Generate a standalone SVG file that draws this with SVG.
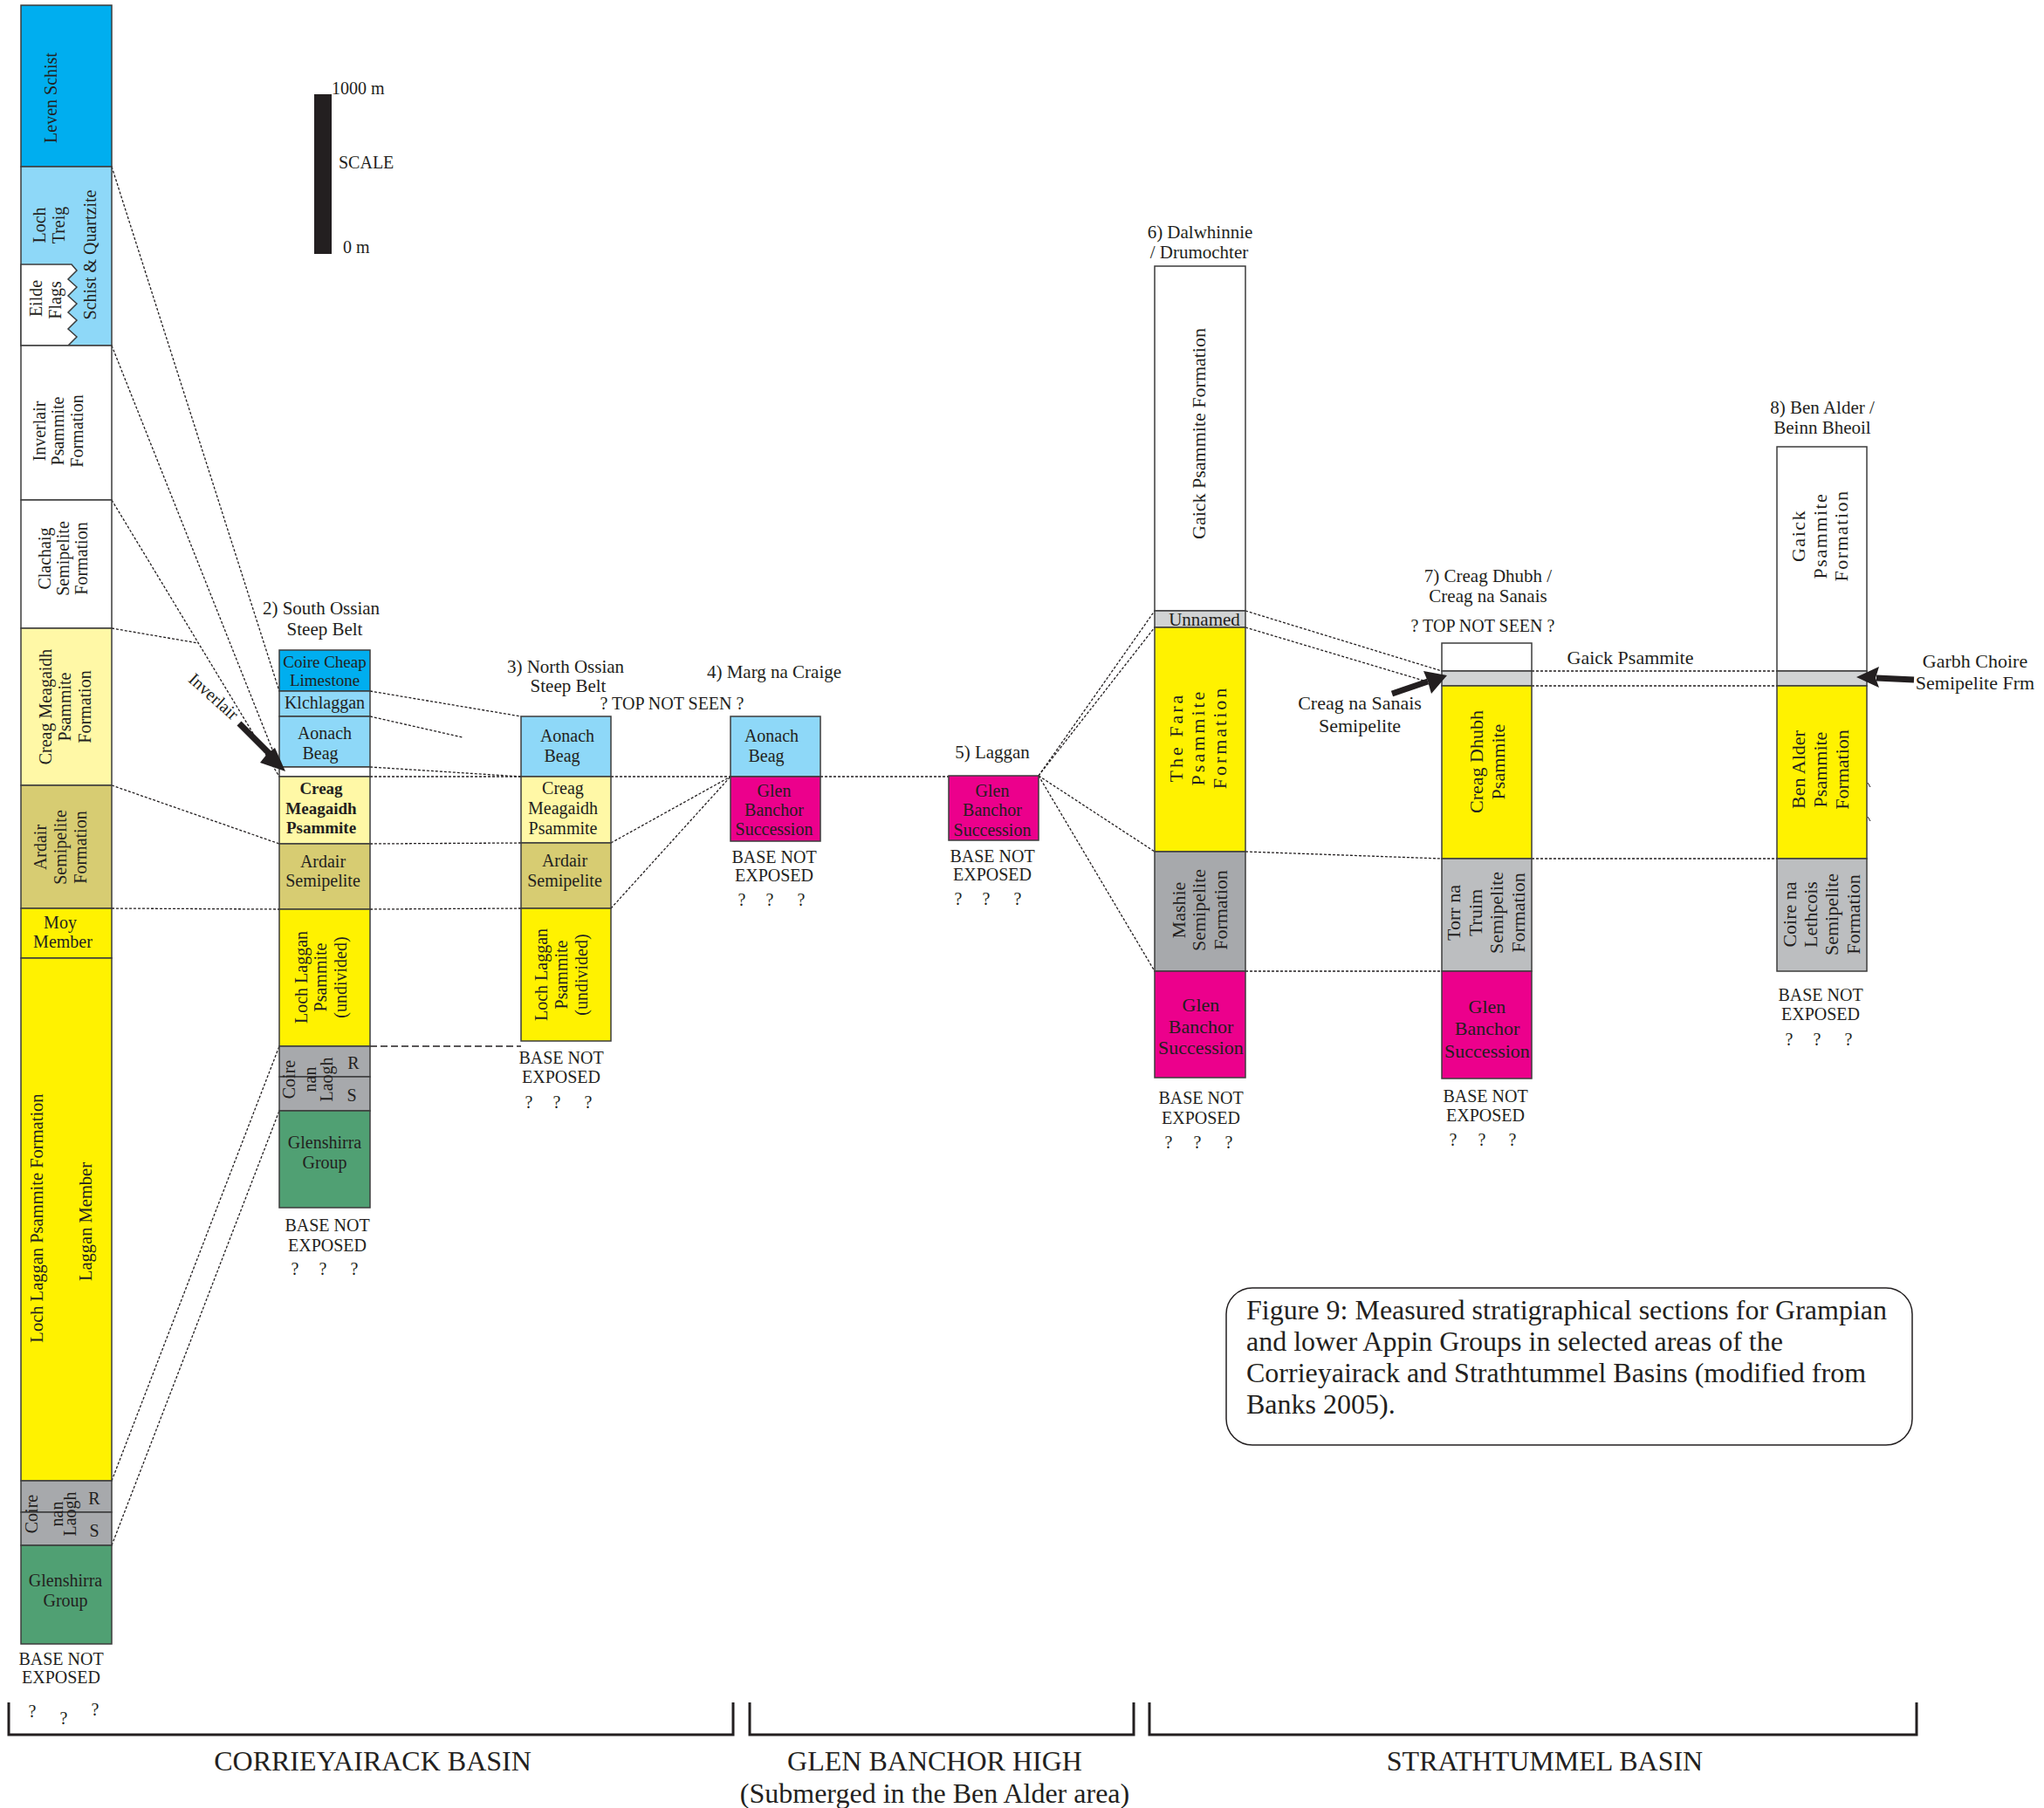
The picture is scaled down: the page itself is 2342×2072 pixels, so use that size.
<svg xmlns="http://www.w3.org/2000/svg" width="2342" height="2072" viewBox="0 0 2342 2072">
<defs>
<style>
.t{font-family:"Liberation Serif","Times New Roman",serif;font-size:20px;fill:#231f20;text-anchor:middle;dominant-baseline:central}
.s19{font-size:19px}
.s21{font-size:21px}
.s22{font-size:22px}
.s32{font-size:32px}
.cap{font-size:32px;text-anchor:start}
.st{text-anchor:start}
.b{font-weight:bold}
.ls1{letter-spacing:1.5px}
.ls3{letter-spacing:3px}
.u{stroke:#3d3d3d;stroke-width:1.5}
.blue{fill:#00aeef}
.lb{fill:#8ed8f8}
.wh{fill:#ffffff}
.py{fill:#fff8a6}
.kh{fill:#d7cc72}
.ye{fill:#fff200}
.gr{fill:#a7a9ac}
.lg{fill:#d1d3d4}
.mg{fill:#bcbec0}
.gn{fill:#50a073}
.ma{fill:#ec008c}
.dl{stroke:#231f20;stroke-width:1.3;stroke-dasharray:3 2;fill:none}
.dl2{stroke:#231f20;stroke-width:1.3;stroke-dasharray:8 4;fill:none}
.br{stroke:#231f20;stroke-width:3;fill:none}
</style>
</defs>
<rect width="2342" height="2072" fill="#ffffff"/>

<g id="connectors">
<line class="dl" x1="128" y1="191" x2="320" y2="792"/>
<line class="dl" x1="128" y1="396" x2="320" y2="879"/>
<line class="dl" x1="128" y1="573" x2="320" y2="890"/>
<line class="dl" x1="128" y1="720" x2="227" y2="737"/>
<line class="dl" x1="128" y1="900" x2="320" y2="967"/>
<line class="dl" x1="128" y1="1041" x2="320" y2="1042"/>
<line class="dl" x1="128" y1="1697" x2="320" y2="1199"/>
<line class="dl" x1="128" y1="1771" x2="320" y2="1273"/>
<line class="dl" x1="424" y1="792" x2="597" y2="821"/>
<line class="dl" x1="424" y1="821" x2="530" y2="845"/>
<line class="dl" x1="424" y1="879" x2="597" y2="890"/>
<line class="dl" x1="424" y1="890" x2="597" y2="890"/>
<line class="dl" x1="424" y1="967" x2="597" y2="966"/>
<line class="dl" x1="424" y1="1042" x2="597" y2="1041"/>
<line class="dl2" x1="424" y1="1199" x2="597" y2="1199"/>
<line class="dl" x1="700" y1="890" x2="837" y2="890"/>
<line class="dl" x1="700" y1="966" x2="837" y2="890"/>
<line class="dl" x1="700" y1="1041" x2="837" y2="890"/>
<line class="dl" x1="940" y1="890" x2="1087" y2="890"/>
<line class="dl" x1="1190" y1="889" x2="1323" y2="700"/>
<line class="dl" x1="1190" y1="889" x2="1323" y2="719"/>
<line class="dl" x1="1190" y1="889" x2="1323" y2="976"/>
<line class="dl" x1="1190" y1="889" x2="1323" y2="1113"/>
<line class="dl" x1="1427" y1="700" x2="1652" y2="769"/>
<line class="dl" x1="1427" y1="719" x2="1648" y2="785"/>
<line class="dl" x1="1427" y1="976" x2="1652" y2="984"/>
<line class="dl" x1="1427" y1="1113" x2="1652" y2="1113"/>
<line class="dl" x1="1755" y1="769" x2="2036" y2="769"/>
<line class="dl" x1="1755" y1="786" x2="2036" y2="786"/>
<line class="dl" x1="1755" y1="984" x2="2036" y2="984"/>
</g>

<g id="scale">
<rect x="360" y="108" width="20" height="183" fill="#231f20"/>
<text class="t st" x="380" y="101">1000 m</text>
<text class="t st" x="388" y="186">SCALE</text>
<text class="t st" x="393" y="283">0 m</text>
</g>

<g id="col1">
<rect class="u blue" x="24" y="6" width="104" height="185"/>
<rect class="u lb" x="24" y="191" width="104" height="205"/>
<polygon class="u wh" points="24,303 82,303 88,310 78,320 88,329 78,339 88,348 78,358 88,367 78,377 88,386 78,396 24,396"/>
<rect class="u wh" x="24" y="396" width="104" height="177"/>
<rect class="u wh" x="24" y="573" width="104" height="147"/>
<rect class="u py" x="24" y="720" width="104" height="180"/>
<rect class="u kh" x="24" y="900" width="104" height="141"/>
<rect class="u ye" x="24" y="1041" width="104" height="57"/>
<rect class="u ye" x="24" y="1098" width="104" height="599"/>
<rect class="u gr" x="24" y="1697" width="104" height="36"/>
<rect class="u gr" x="24" y="1733" width="104" height="38"/>
<rect class="u gn" x="24" y="1771" width="104" height="113"/>
<text class="t" x="58" y="112" transform="rotate(-90 58 112)">Leven Schist</text>
<text class="t" x="45" y="258" transform="rotate(-90 45 258)">Loch</text>
<text class="t" x="67" y="258" transform="rotate(-90 67 258)">Treig</text>
<text class="t" x="103" y="292" transform="rotate(-90 103 292)">Schist &amp; Quartzite</text>
<text class="t" x="41" y="342" transform="rotate(-90 41 342)">Eilde</text>
<text class="t" x="63" y="344" transform="rotate(-90 63 344)">Flags</text>
<text class="t" x="45" y="494" transform="rotate(-90 45 494)">Inverlair</text>
<text class="t" x="66" y="494" transform="rotate(-90 66 494)">Psammite</text>
<text class="t" x="88" y="494" transform="rotate(-90 88 494)">Formation</text>
<text class="t" x="51" y="640" transform="rotate(-90 51 640)">Clachaig</text>
<text class="t" x="72" y="640" transform="rotate(-90 72 640)">Semipelite</text>
<text class="t" x="93" y="640" transform="rotate(-90 93 640)">Formation</text>
<text class="t" x="52" y="810" transform="rotate(-90 52 810)">Creag Meagaidh</text>
<text class="t" x="74" y="810" transform="rotate(-90 74 810)">Psammite</text>
<text class="t" x="97" y="810" transform="rotate(-90 97 810)">Formation</text>
<text class="t" x="46" y="971" transform="rotate(-90 46 971)">Ardair</text>
<text class="t" x="69" y="971" transform="rotate(-90 69 971)">Semipelite</text>
<text class="t" x="92" y="971" transform="rotate(-90 92 971)">Formation</text>
<text class="t" x="69" y="1057">Moy</text>
<text class="t" x="72" y="1079">Member</text>
<text class="t" x="42" y="1396" transform="rotate(-90 42 1396)" style="font-size:20.5px">Loch Laggan Psammite Formation</text>
<text class="t" x="98" y="1400" transform="rotate(-90 98 1400)" style="font-size:20.5px">Laggan Member</text>
<text class="t" x="36" y="1735" transform="rotate(-90 36 1735)">Coire</text>
<text class="t" x="65" y="1735" transform="rotate(-90 65 1735)">nan</text>
<text class="t" x="80" y="1735" transform="rotate(-90 80 1735)">Laogh</text>
<text class="t" x="108" y="1717">R</text>
<text class="t" x="108" y="1754">S</text>
<text class="t" x="75" y="1811">Glenshirra</text>
<text class="t" x="75" y="1834">Group</text>
<text class="t" x="70" y="1901">BASE NOT</text>
<text class="t" x="70" y="1922">EXPOSED</text>
<text class="t" x="37" y="1961">?</text>
<text class="t" x="73" y="1969">?</text>
<text class="t" x="109" y="1959">?</text>
</g>

<g id="col2">
<text class="t s21" x="368" y="697">2) South Ossian</text>
<text class="t s21" x="372" y="721">Steep Belt</text>
<rect class="u blue" x="320" y="745" width="104" height="47"/>
<rect class="u lb" x="320" y="792" width="104" height="29"/>
<rect class="u lb" x="320" y="821" width="104" height="58"/>
<rect class="u wh" x="320" y="879" width="104" height="11"/>
<rect class="u py" x="320" y="890" width="104" height="77"/>
<rect class="u kh" x="320" y="967" width="104" height="75"/>
<rect class="u ye" x="320" y="1042" width="104" height="157"/>
<rect class="u gr" x="320" y="1199" width="104" height="35"/>
<rect class="u gr" x="320" y="1234" width="104" height="39"/>
<rect class="u gn" x="320" y="1273" width="104" height="111"/>
<text class="t s19" x="372" y="758">Coire Cheap</text>
<text class="t s19" x="372" y="779">Limestone</text>
<text class="t" x="372" y="805">Klchlaggan</text>
<text class="t" x="372" y="840">Aonach</text>
<text class="t" x="367" y="863">Beag</text>
<text class="t s19 b" x="368" y="903">Creag</text>
<text class="t s19 b" x="368" y="926">Meagaidh</text>
<text class="t s19 b" x="368" y="948">Psammite</text>
<text class="t" x="370" y="987">Ardair</text>
<text class="t" x="370" y="1009">Semipelite</text>
<text class="t" x="345" y="1120" transform="rotate(-90 345 1120)">Loch Laggan</text>
<text class="t" x="367" y="1120" transform="rotate(-90 367 1120)">Psammite</text>
<text class="t" x="390" y="1120" transform="rotate(-90 390 1120)">(undivided)</text>
<text class="t" x="331" y="1237" transform="rotate(-90 331 1237)">Coire</text>
<text class="t" x="355" y="1237" transform="rotate(-90 355 1237)">nan</text>
<text class="t" x="374" y="1237" transform="rotate(-90 374 1237)">Laogh</text>
<text class="t" x="405" y="1218">R</text>
<text class="t" x="403" y="1255">S</text>
<text class="t" x="372" y="1309">Glenshirra</text>
<text class="t" x="372" y="1332">Group</text>
<text class="t" x="375" y="1404">BASE NOT</text>
<text class="t" x="375" y="1427">EXPOSED</text>
<text class="t" x="338" y="1454">?</text>
<text class="t" x="370" y="1454">?</text>
<text class="t" x="406" y="1454">?</text>
</g>

<g id="col3">
<text class="t s21" x="648" y="764">3) North Ossian</text>
<text class="t s21" x="651" y="786">Steep Belt</text>
<text class="t" x="770" y="806">? TOP NOT SEEN ?</text>
<rect class="u lb" x="597" y="821" width="103" height="69"/>
<rect class="u py" x="597" y="890" width="103" height="76"/>
<rect class="u kh" x="597" y="966" width="103" height="75"/>
<rect class="u ye" x="597" y="1041" width="103" height="152"/>
<text class="t" x="650" y="843">Aonach</text>
<text class="t" x="644" y="866">Beag</text>
<text class="t" x="645" y="903">Creag</text>
<text class="t" x="645" y="926">Meagaidh</text>
<text class="t" x="645" y="949">Psammite</text>
<text class="t" x="647" y="986">Ardair</text>
<text class="t" x="647" y="1009">Semipelite</text>
<text class="t" x="620" y="1117" transform="rotate(-90 620 1117)">Loch Laggan</text>
<text class="t" x="643" y="1117" transform="rotate(-90 643 1117)">Psammite</text>
<text class="t" x="666" y="1117" transform="rotate(-90 666 1117)">(undivided)</text>
<text class="t" x="643" y="1212">BASE NOT</text>
<text class="t" x="643" y="1234">EXPOSED</text>
<text class="t" x="606" y="1263">?</text>
<text class="t" x="638" y="1263">?</text>
<text class="t" x="674" y="1263">?</text>
</g>

<g id="col4">
<text class="t s21" x="887" y="770">4) Marg na Craige</text>
<rect class="u lb" x="837" y="821" width="103" height="69"/>
<rect class="u ma" x="837" y="890" width="103" height="74"/>
<text class="t" x="884" y="843">Aonach</text>
<text class="t" x="878" y="866">Beag</text>
<text class="t" x="887" y="906">Glen</text>
<text class="t" x="887" y="928">Banchor</text>
<text class="t" x="887" y="950">Succession</text>
<text class="t" x="887" y="982">BASE NOT</text>
<text class="t" x="887" y="1003">EXPOSED</text>
<text class="t" x="850" y="1031">?</text>
<text class="t" x="882" y="1031">?</text>
<text class="t" x="918" y="1031">?</text>
</g>

<g id="col5">
<text class="t s21" x="1137" y="862">5) Laggan</text>
<rect class="u ma" x="1087" y="889" width="103" height="74"/>
<text class="t" x="1137" y="906">Glen</text>
<text class="t" x="1137" y="928">Banchor</text>
<text class="t" x="1137" y="951">Succession</text>
<text class="t" x="1137" y="981">BASE NOT</text>
<text class="t" x="1137" y="1002">EXPOSED</text>
<text class="t" x="1098" y="1030">?</text>
<text class="t" x="1130" y="1030">?</text>
<text class="t" x="1166" y="1030">?</text>
</g>

<g id="col6">
<text class="t s21" x="1375" y="266">6) Dalwhinnie</text>
<text class="t s21" x="1374" y="289">/ Drumochter</text>
<rect class="u wh" x="1323" y="305" width="104" height="395"/>
<rect class="u lg" x="1323" y="700" width="104" height="19"/>
<rect class="u ye" x="1323" y="719" width="104" height="257"/>
<rect class="u gr" x="1323" y="976" width="104" height="137"/>
<rect class="u ma" x="1323" y="1113" width="104" height="122"/>
<text class="t s22" x="1373" y="497" transform="rotate(-90 1373 497)">Gaick Psammite Formation</text>
<text class="t s21" x="1380" y="710">Unnamed</text>
<text class="t s22 ls3" x="1347" y="845" transform="rotate(-90 1347 845)">The Fara</text>
<text class="t s22 ls3" x="1372" y="845" transform="rotate(-90 1372 845)">Psammite</text>
<text class="t s22 ls3" x="1397" y="845" transform="rotate(-90 1397 845)">Formation</text>
<text class="t s22" x="1350" y="1043" transform="rotate(-90 1350 1043)">Mashie</text>
<text class="t s22" x="1373" y="1043" transform="rotate(-90 1373 1043)">Semipelite</text>
<text class="t s22" x="1398" y="1043" transform="rotate(-90 1398 1043)">Formation</text>
<text class="t s22" x="1376" y="1151">Glen</text>
<text class="t s22" x="1376" y="1176">Banchor</text>
<text class="t s22" x="1376" y="1200">Succession</text>
<text class="t" x="1376" y="1258">BASE NOT</text>
<text class="t" x="1376" y="1281">EXPOSED</text>
<text class="t" x="1339" y="1309">?</text>
<text class="t" x="1372" y="1309">?</text>
<text class="t" x="1408" y="1309">?</text>
</g>

<g id="col7">
<text class="t s21" x="1705" y="660">7) Creag Dhubh /</text>
<text class="t s21" x="1705" y="683">Creag na Sanais</text>
<text class="t" x="1699" y="717">? TOP NOT SEEN ?</text>
<rect class="u wh" x="1652" y="737" width="103" height="32"/>
<rect class="u lg" x="1652" y="769" width="103" height="17"/>
<rect class="u ye" x="1652" y="786" width="103" height="198"/>
<rect class="u mg" x="1652" y="984" width="103" height="129"/>
<rect class="u ma" x="1652" y="1113" width="103" height="123"/>
<text class="t s22" x="1691" y="873" transform="rotate(-90 1691 873)">Creag Dhubh</text>
<text class="t s22" x="1716" y="873" transform="rotate(-90 1716 873)">Psammite</text>
<text class="t s22" x="1665" y="1046" transform="rotate(-90 1665 1046)">Torr na</text>
<text class="t s22" x="1690" y="1046" transform="rotate(-90 1690 1046)">Truim</text>
<text class="t s22" x="1714" y="1046" transform="rotate(-90 1714 1046)">Semipelite</text>
<text class="t s22" x="1739" y="1046" transform="rotate(-90 1739 1046)">Formation</text>
<text class="t s22" x="1704" y="1153">Glen</text>
<text class="t s22" x="1704" y="1178">Banchor</text>
<text class="t s22" x="1704" y="1204">Succession</text>
<text class="t" x="1702" y="1256">BASE NOT</text>
<text class="t" x="1702" y="1278">EXPOSED</text>
<text class="t" x="1665" y="1306">?</text>
<text class="t" x="1698" y="1306">?</text>
<text class="t" x="1733" y="1306">?</text>
</g>

<g id="col8">
<text class="t s21" x="2088" y="467">8) Ben Alder /</text>
<text class="t s21" x="2088" y="490">Beinn Bheoil</text>
<rect class="u wh" x="2036" y="512" width="103" height="257"/>
<rect class="u lg" x="2036" y="769" width="103" height="17"/>
<rect class="u ye" x="2036" y="786" width="103" height="198"/>
<rect class="u mg" x="2036" y="984" width="103" height="129"/>
<line x1="2140" y1="897" x2="2143" y2="902" stroke="#231f20" stroke-width="1"/>
<line x1="2140" y1="936" x2="2143" y2="941" stroke="#231f20" stroke-width="1"/>
<text class="t s22 ls1" x="2060" y="614" transform="rotate(-90 2060 614)">Gaick</text>
<text class="t s22 ls1" x="2085" y="614" transform="rotate(-90 2085 614)">Psammite</text>
<text class="t s22 ls1" x="2109" y="614" transform="rotate(-90 2109 614)">Formation</text>
<text class="t s22" x="2060" y="882" transform="rotate(-90 2060 882)">Ben Alder</text>
<text class="t s22" x="2085" y="882" transform="rotate(-90 2085 882)">Psammite</text>
<text class="t s22" x="2110" y="882" transform="rotate(-90 2110 882)">Formation</text>
<text class="t s22" x="2050" y="1048" transform="rotate(-90 2050 1048)">Coire na</text>
<text class="t s22" x="2074" y="1048" transform="rotate(-90 2074 1048)">Lethcois</text>
<text class="t s22" x="2098" y="1048" transform="rotate(-90 2098 1048)">Semipelite</text>
<text class="t s22" x="2123" y="1048" transform="rotate(-90 2123 1048)">Formation</text>
<text class="t" x="2086" y="1140">BASE NOT</text>
<text class="t" x="2086" y="1162">EXPOSED</text>
<text class="t" x="2050" y="1191">?</text>
<text class="t" x="2082" y="1191">?</text>
<text class="t" x="2118" y="1191">?</text>
</g>

<g id="annotations">
<text class="t" x="245" y="798" transform="rotate(42 245 798)">Inverlair</text>
<line x1="274" y1="829" x2="309" y2="864" stroke="#231f20" stroke-width="7"/>
<polygon points="327,884 298,874 306,864 315,857" fill="#231f20"/>
<text class="t s22" x="1868" y="753">Gaick Psammite</text>
<text class="t s22" x="1558" y="805">Creag na Sanais</text>
<text class="t s22" x="1558" y="831">Semipelite</text>
<line x1="1595" y1="795" x2="1636" y2="781" stroke="#231f20" stroke-width="7"/>
<polygon points="1658,774 1631,769 1636,781 1640,795" fill="#231f20"/>
<text class="t s22" x="2263" y="757">Garbh Choire</text>
<text class="t s22" x="2263" y="782">Semipelite Frm</text>
<line x1="2193" y1="779" x2="2150" y2="777" stroke="#231f20" stroke-width="7"/>
<polygon points="2127,776 2153,764 2149,777 2153,788" fill="#231f20"/>
</g>

<g id="basins">
<polyline class="br" points="10,1951 10,1988 840,1988 840,1951"/>
<polyline class="br" points="859,1951 859,1988 1299,1988 1299,1951"/>
<polyline class="br" points="1317,1951 1317,1988 2196,1988 2196,1951"/>
<text class="t s32" x="427" y="2018">CORRIEYAIRACK BASIN</text>
<text class="t s32" x="1071" y="2018">GLEN BANCHOR HIGH</text>
<text class="t s32" x="1071" y="2055">(Submerged in the Ben Alder area)</text>
<text class="t s32" x="1770" y="2018">STRATHTUMMEL BASIN</text>
</g>

<g id="caption">
<rect x="1405" y="1476" width="786" height="180" rx="30" ry="30" fill="#ffffff" stroke="#231f20" stroke-width="1.5"/>
<text class="t cap" x="1428" y="1501">Figure 9: Measured stratigraphical sections for Grampian</text>
<text class="t cap" x="1428" y="1537">and lower Appin Groups in selected areas of the</text>
<text class="t cap" x="1428" y="1573">Corrieyairack and Strathtummel Basins (modified from</text>
<text class="t cap" x="1428" y="1609">Banks 2005).</text>
</g>
</svg>
